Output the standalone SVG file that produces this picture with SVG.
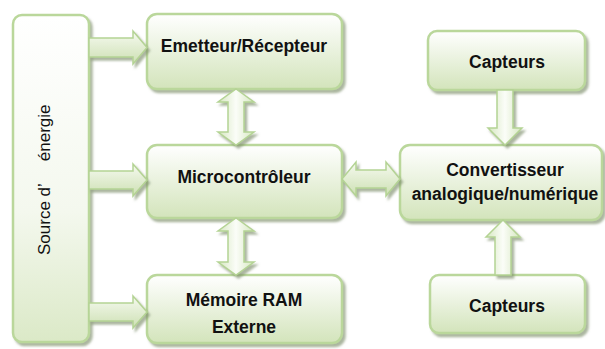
<svg xmlns="http://www.w3.org/2000/svg" width="605" height="349" viewBox="0 0 605 349">
<defs>
<linearGradient id="boxg" x1="0" y1="0" x2="0" y2="1">
<stop offset="0" stop-color="#ffffff"/>
<stop offset="1" stop-color="#d3e4bb"/>
</linearGradient>
<linearGradient id="srcg" x1="0" y1="0" x2="0" y2="1">
<stop offset="0" stop-color="#ffffff"/>
<stop offset="0.6" stop-color="#f4f8ee"/>
<stop offset="1" stop-color="#dbe9c7"/>
</linearGradient>
<linearGradient id="arrh" x1="0" y1="0" x2="0" y2="1">
<stop offset="0" stop-color="#f6faf0"/>
<stop offset="1" stop-color="#cde0b3"/>
</linearGradient>
<linearGradient id="arrv" x1="0" y1="0" x2="1" y2="0">
<stop offset="0" stop-color="#d6e7c0"/>
<stop offset="0.5" stop-color="#fbfdf8"/>
<stop offset="1" stop-color="#d6e7c0"/>
</linearGradient>
<filter id="sh" x="-10%" y="-10%" width="130%" height="130%">
<feDropShadow dx="2.5" dy="3" stdDeviation="1.2" flood-color="#7e8f6c" flood-opacity="0.65"/>
</filter>
</defs>
<style>
.box{stroke:#bad79b;stroke-width:2.5;fill:url(#boxg);filter:url(#sh)}
.src{stroke:#bad79b;stroke-width:2.5;fill:url(#srcg);filter:url(#sh)}
.ah{stroke:#b4d394;stroke-width:1.5;fill:url(#arrh);filter:url(#sh);stroke-linejoin:miter}
.av{stroke:#b4d394;stroke-width:1.5;fill:url(#arrv);filter:url(#sh);stroke-linejoin:miter}
.t{font-family:"Liberation Sans",Arial,sans-serif;font-weight:bold;font-size:17.5px;fill:#111;text-anchor:middle}
.s{font-family:"Liberation Sans",Arial,sans-serif;font-size:17px;fill:#111}
</style>
<g id="source">
<rect class="src" x="13" y="15" width="76" height="327" rx="9"/>
<text class="s" transform="translate(50,255) rotate(-90)">Source d’<tspan dx="22">énergie</tspan></text>
</g>
<g id="emetteur">
<rect class="box" x="147" y="14" width="195" height="75" rx="10"/>
<text class="t" x="244" y="52">Emetteur/Récepteur</text>
</g>
<g id="micro">
<rect class="box" x="147" y="145" width="195" height="73" rx="10"/>
<text class="t" x="244" y="183">Microcontrôleur</text>
</g>
<g id="memoire">
<rect class="box" x="147" y="275" width="195" height="68" rx="10"/>
<text class="t" x="244" y="306">Mémoire RAM</text>
<text class="t" x="244" y="333">Externe</text>
</g>
<g id="capteurs1">
<rect class="box" x="428" y="31" width="157" height="59" rx="9"/>
<text class="t" x="507" y="68">Capteurs</text>
</g>
<g id="convertisseur">
<rect class="box" x="400" y="145" width="202" height="75" rx="10"/>
<text class="t" x="505" y="176">Convertisseur</text>
<text class="t" x="505" y="200">analogique/numérique</text>
</g>
<g id="capteurs2">
<rect class="box" x="430" y="275" width="155" height="58" rx="9"/>
<text class="t" x="507" y="312">Capteurs</text>
</g>
<g id="connectors">
<polygon class="ah" points="89,38 133,38 133,31 147,47.5 133,64 133,57 89,57"/>
<polygon class="ah" points="89,171 133,171 133,164 147,180 133,196 133,189 89,189"/>
<polygon class="ah" points="89,303 133,303 133,296 147,312 133,328 133,321 89,321"/>
<polygon class="av" points="236,89 254,102 244,102 244,132 254,132 236,145 218,132 228,132 228,102 218,102"/>
<polygon class="av" points="236,218 254,231 244,231 244,262 254,262 236,275 218,262 228,262 228,231 218,231"/>
<polygon class="ah" points="342,179 356,162 356,170 386,170 386,162 400,179 386,196 386,188 356,188 356,196"/>
<polygon class="av" points="497,90 513,90 513,128 522,128 505,145 488,128 497,128"/>
<polygon class="av" points="503,220 520,237 511,237 511,275 495,275 495,237 486,237"/>
</g>
</svg>
